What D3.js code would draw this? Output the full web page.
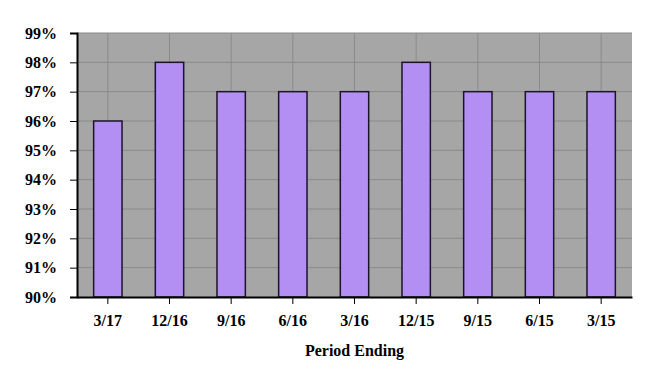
<!DOCTYPE html>
<html>
<head>
<meta charset="utf-8">
<script src="https://cdn.jsdelivr.net/npm/d3@7"></script>
<style>
  body { margin: 0; background: #fff; }
  svg text { font-family: "Liberation Serif", "Times New Roman", "DejaVu Serif", serif !important; font-weight: bold; }
</style>
</head>
<body>
<div id="chart"></div>
<script>
var periods = ['3/17', '12/16', '9/16', '6/16', '3/16', '12/15', '9/15', '6/15', '3/15']
var scores = [96, 98, 97, 97, 97, 98, 97, 97, 97]
var yTicks = [90, 91, 92, 93, 94, 95, 96, 97, 98, 99]

var width = 665
var height = 389
var margin = { top: 33, right: 33, bottom: 92, left: 77 }

var svg = d3.select('#chart').append('svg')
  .attr('width', width)
  .attr('height', height)

var x = d3.scaleBand().domain(periods)
  .range([margin.left, width - margin.right])
  .paddingInner(0.54).paddingOuter(0.27)

var y = d3.scaleLinear().domain([90, 99])
  .range([height - margin.bottom, margin.top])

// plot background
svg.append('rect')
  .attr('x', margin.left).attr('y', margin.top)
  .attr('width', width - margin.right - margin.left)
  .attr('height', height - margin.bottom - margin.top)
  .attr('fill', '#a6a6a6')

// horizontal grid
svg.append('g').selectAll('line')
  .data(yTicks.slice(1))
  .enter().append('line')
  .attr('x1', margin.left).attr('x2', width - margin.right)
  .attr('y1', d => y(d)).attr('y2', d => y(d))
  .attr('stroke', '#8a8a8a').attr('stroke-width', 1)

// vertical grid at category centres
svg.append('g').selectAll('line')
  .data(periods)
  .enter().append('line')
  .attr('x1', d => x(d) + x.bandwidth() / 2).attr('x2', d => x(d) + x.bandwidth() / 2)
  .attr('y1', margin.top).attr('y2', height - margin.bottom)
  .attr('stroke', '#8a8a8a').attr('stroke-width', 1)

// bars
svg.append('g').selectAll('rect')
  .data(periods)
  .enter().append('rect')
  .attr('x', d => x(d))
  .attr('y', (d, i) => y(scores[i]))
  .attr('width', x.bandwidth())
  .attr('height', (d, i) => y(90) - y(scores[i]))
  .attr('fill', '#b38ef3')
  .attr('stroke', '#1c1428')
  .attr('stroke-width', 1.5)

// y axis
var yAxis = svg.append('g')
  .attr('transform', `translate(${margin.left},0)`)
  .call(d3.axisLeft(y).tickValues(yTicks).tickFormat(d => d + '%').tickSize(7).tickPadding(13))
yAxis.attr('font-family', null)
yAxis.select('.domain').attr('stroke', '#000').attr('stroke-width', 2)
yAxis.selectAll('.tick line').attr('stroke', '#000')
yAxis.selectAll('text').attr('font-size', '16px').attr('fill', '#000')

// x axis
var xAxis = svg.append('g')
  .attr('transform', `translate(0,${height - margin.bottom})`)
  .call(d3.axisBottom(x).tickSize(7).tickPadding(11).tickSizeOuter(0))
xAxis.attr('font-family', null)
xAxis.select('.domain').attr('stroke', '#000').attr('stroke-width', 2)
xAxis.selectAll('.tick line').attr('stroke', '#000')
xAxis.selectAll('text').attr('font-size', '16px').attr('fill', '#000')

svg.append('text')
  .attr('x', (margin.left + width - margin.right) / 2)
  .attr('y', 356)
  .attr('text-anchor', 'middle')
  .attr('font-size', '16px')
  .text('Period Ending')
</script>
</body>
</html>
